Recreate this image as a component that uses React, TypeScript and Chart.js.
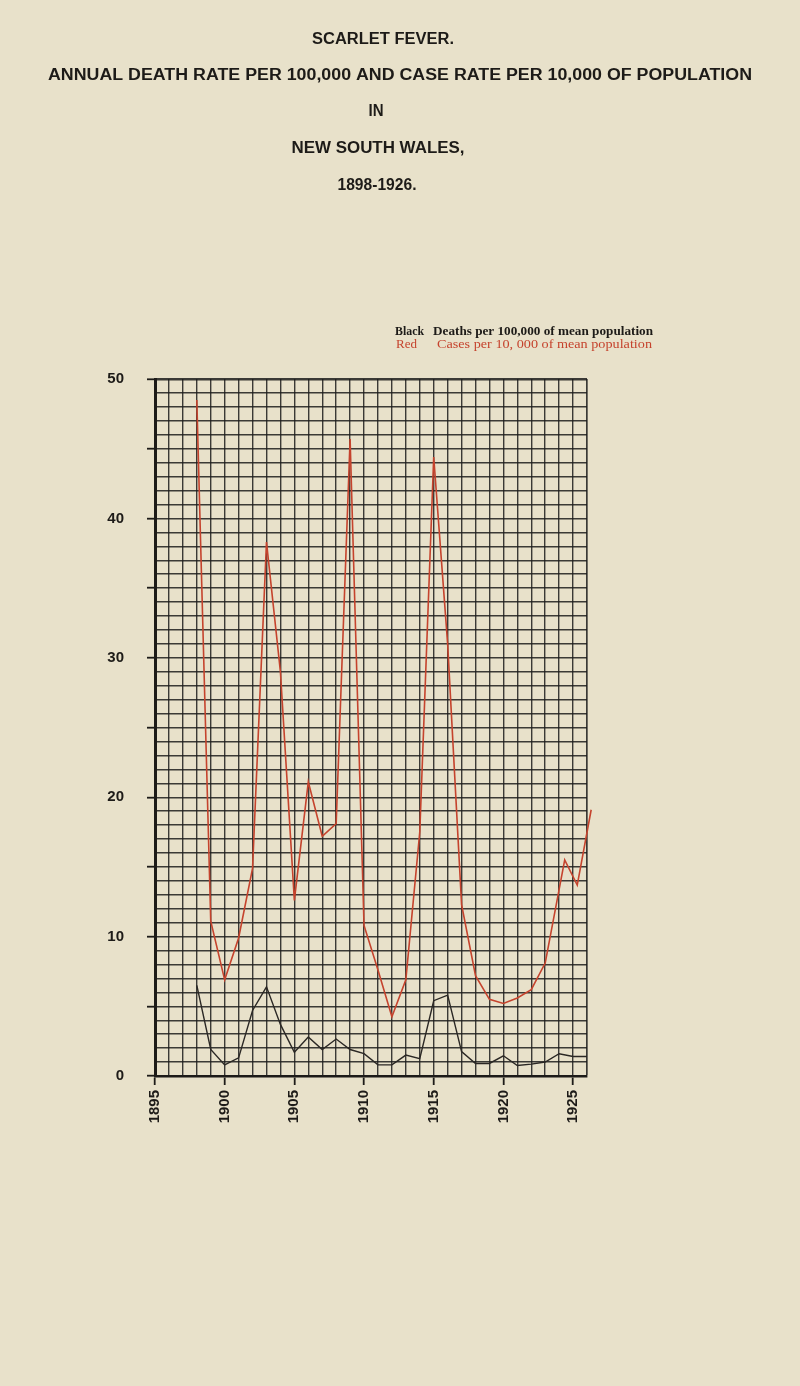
import React, { useEffect, useRef } from 'react';
import { Chart, registerables } from 'chart.js';

Chart.register(...registerables);

// ---- data ----
const deathYears = [1898, 1899, 1900, 1901, 1902, 1903, 1904, 1905, 1906, 1907, 1908, 1909, 1910, 1911, 1912, 1913, 1914, 1915, 1916, 1917, 1918, 1919, 1920, 1921, 1922, 1923, 1924, 1925, 1926];
const deathRates = [6.5, 1.9, 0.8, 1.3, 4.7, 6.4, 3.7, 1.7, 2.8, 1.9, 2.65, 1.9, 1.6, 0.8, 0.8, 1.5, 1.25, 5.4, 5.8, 1.75, 0.9, 0.9, 1.45, 0.75, 0.85, 1.0, 1.6, 1.4, 1.4];

const caseYears = [1898, 1899, 1900, 1901, 1902, 1903, 1904, 1905, 1906, 1907, 1908, 1909, 1910, 1911, 1912, 1913, 1914, 1915, 1916, 1917, 1918, 1919, 1920, 1921, 1922, 1923, 1924.4, 1925.3, 1926.3];
const caseRates = [48.5, 11.1, 6.9, 9.9, 14.9, 38.3, 29.0, 12.6, 21.1, 17.2, 18.1, 45.7, 10.8, 7.6, 4.25, 6.9, 17.5, 44.4, 31.0, 12.3, 7.2, 5.5, 5.2, 5.6, 6.2, 8.1, 15.5, 13.7, 19.1];

const yearLabelEvery = 5;
const rateLabelEvery = 10;
const rateTickEvery = 5;

const titleLines = [
  'SCARLET FEVER.',
  'ANNUAL DEATH RATE PER 100,000 AND CASE RATE PER 10,000 OF POPULATION',
  'IN',
  'NEW SOUTH WALES,',
  '1898-1926.',
];
const legendKeys = ['Black', 'Red'];
const legendTexts = ['Deaths per 100,000 of mean population', 'Cases per 10, 000 of mean population'];

// ---- layout / style (not data) ----
const titleLayout = [
  { cx: 383, base: 44, w: 142 },
  { cx: 400, base: 80, w: 704 },
  { cx: 376, base: 116, w: 15 },
  { cx: 378, base: 153, w: 173 },
  { cx: 377, base: 190, w: 79 },
];
const legendLayout = [
  { keyX: 395, keyW: 29, textX: 433, textW: 220, base: 335 },
  { keyX: 396, keyW: 21, textX: 437, textW: 215, base: 348 },
];

const INK = '#1d1b18';
const RED = '#c5432d';
const BG = '#e8e1ca';
const GRID = 'rgba(28,28,28,0.85)';
const NARROW = '"Liberation Sans Narrow", "Liberation Sans", "DejaVu Sans", sans-serif';

export default function App() {
  const ref = useRef<HTMLCanvasElement>(null);

  useEffect(() => {
    const canvas = ref.current;
    if (!canvas) return;

    const textPlugin = {
      id: 'pageTexts',
      afterDraw(chart: any) {
        const ctx = chart.ctx as CanvasRenderingContext2D;
        const fit = (text: string, x: number, base: number, w: number, font: string, color: string, align: CanvasTextAlign) => {
          ctx.save();
          ctx.font = font;
          ctx.fillStyle = color;
          ctx.textAlign = align;
          ctx.textBaseline = 'alphabetic';
          const m = ctx.measureText(text).width || 1;
          ctx.translate(x, base);
          ctx.scale(w / m, 1);
          ctx.fillText(text, 0, 0);
          ctx.restore();
        };
        titleLines.forEach((t, i) => {
          const l = titleLayout[i];
          fit(t, l.cx, l.base, l.w, `bold 16px ${NARROW}`, INK, 'center');
        });
        legendKeys.forEach((k, i) => {
          const l = legendLayout[i];
          const color = i === 0 ? INK : RED;
          const weight = i === 0 ? 'bold ' : '';
          fit(k, l.keyX, l.base, l.keyW, `${weight}12px "Liberation Serif", serif`, color, 'left');
          fit(legendTexts[i], l.textX, l.base, l.textW, `${weight}12px "Liberation Serif", serif`, color, 'left');
        });
      },
    };

    const chart = new Chart(canvas, {
      type: 'line',
      data: {
        datasets: [
          {
            label: legendTexts[1],
            data: caseYears.map((x, i) => ({ x, y: caseRates[i] })),
            borderColor: RED,
            borderWidth: 1.6,
            pointRadius: 0,
            tension: 0,
            clip: false as any,
          },
          {
            label: legendTexts[0],
            data: deathYears.map((x, i) => ({ x, y: deathRates[i] })),
            borderColor: '#2a2724',
            borderWidth: 1.4,
            pointRadius: 0,
            tension: 0,
          },
        ],
      },
      plugins: [textPlugin],
      options: {
        responsive: false,
        animation: false,
        events: [],
        layout: { padding: { top: 379, right: 213, left: 0, bottom: 0 } },
        plugins: {
          legend: { display: false },
          title: { display: false },
          tooltip: { enabled: false },
        },
        scales: {
          x: {
            type: 'linear',
            min: 1895,
            max: 1926,
            afterFit: (s: any) => { s.height = 310; },
            border: { display: true, color: INK, width: 2.6 },
            grid: {
              color: GRID,
              lineWidth: (c: any) => (c.tick && c.tick.value === 1926 ? 1.7 : 1.4),
              drawTicks: true,
              tickLength: 9,
              tickWidth: 1.8,
              tickColor: (c: any) => (c.tick && c.tick.value % yearLabelEvery === 0 && c.tick.value < 1926 ? INK : 'rgba(0,0,0,0)'),
            },
            ticks: {
              stepSize: 1,
              autoSkip: false,
              maxRotation: 90,
              minRotation: 90,
              padding: 5,
              color: INK,
              font: { family: NARROW, size: 15, weight: 'bold' },
              callback: (v: any) => (Number(v) % yearLabelEvery === 0 && Number(v) < 1926 ? String(v) : ''),
            },
          },
          y: {
            type: 'linear',
            min: 0,
            max: 50,
            afterFit: (s: any) => { s.width = 155; },
            border: { display: true, color: INK, width: 3 },
            grid: {
              color: GRID,
              lineWidth: (c: any) => (c.tick && c.tick.value === 50 ? 2.6 : 1.4),
              drawTicks: true,
              tickLength: 8,
              tickWidth: 1.8,
              tickColor: (c: any) => (c.tick && c.tick.value % rateTickEvery === 0 ? INK : 'rgba(0,0,0,0)'),
            },
            ticks: {
              stepSize: 1,
              autoSkip: false,
              maxTicksLimit: 100,
              padding: 23,
              color: INK,
              font: { family: '"Liberation Sans", sans-serif', size: 15, weight: 'bold' },
              callback: (v: any) => (Number(v) % rateLabelEvery === 0 ? String(v) : ''),
            },
          },
        },
      } as any,
    });

    return () => chart.destroy();
  }, []);

  return (
    <div style={{ position: 'absolute', left: 0, top: 0, width: 800, height: 1386, background: BG }}>
      <canvas ref={ref} width={800} height={1386} style={{ display: 'block' }} />
    </div>
  );
}
